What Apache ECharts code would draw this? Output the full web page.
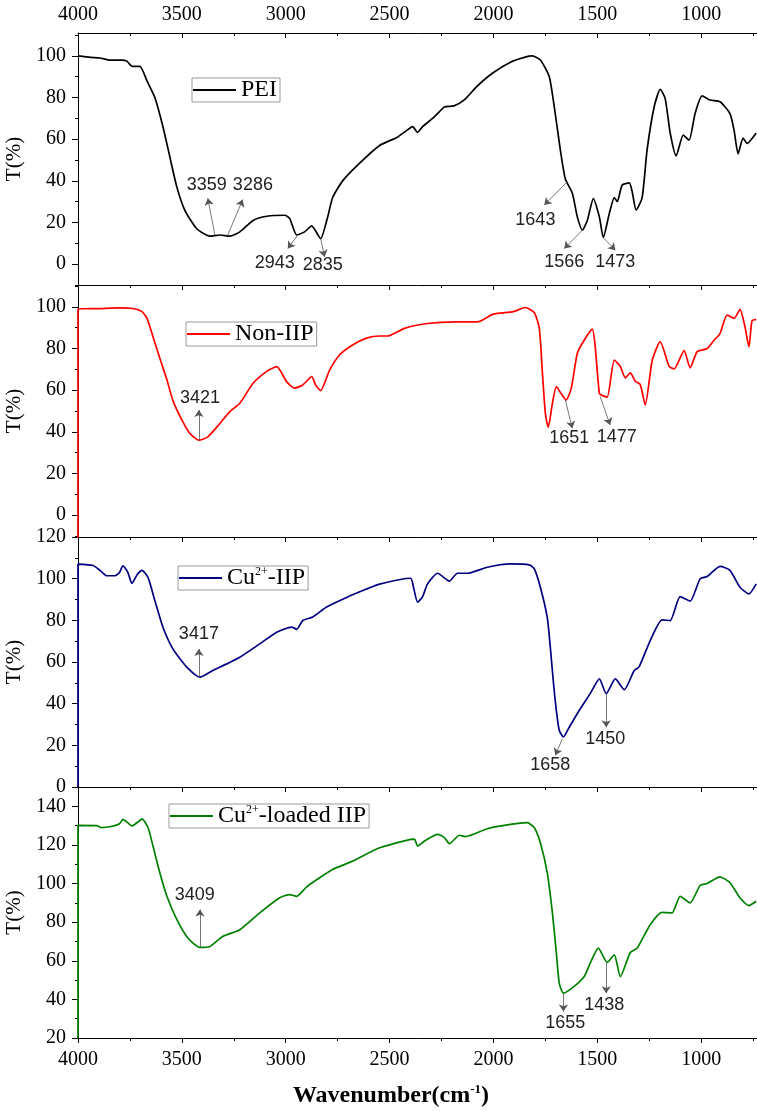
<!DOCTYPE html>
<html>
<head>
<meta charset="utf-8">
<title>FTIR spectra</title>
<script src="https://cdn.jsdelivr.net/npm/echarts@6/dist/echarts.min.js"></script>
<style>
  html, body { margin: 0; padding: 0; background: #fff; }
  #chart { width: 757px; height: 1111px; }
</style>
</head>
<body>
<div id="chart"></div>
<script>
// wavenumber ticks (cm-1)
const xMajorTicks = [1000, 1500, 2000, 2500, 3000, 3500, 4000];
const xMinorTicks = [750, 1250, 1750, 2250, 2750, 3250, 3750];

// spectra, [wavenumber, T%]
const peiData = [
  [4000, 100], [3940, 99.3], [3894, 99], [3846, 98], [3788, 98], [3765, 97.5], [3740, 95], [3702, 95],
  [3668, 88], [3630, 80], [3591, 66], [3558, 51.6], [3524, 37], [3486, 26], [3428, 17], [3365, 13.5],
  [3317, 14], [3269, 13.5], [3221, 15.5], [3157, 21], [3091, 23], [3005, 23.5], [2981, 22], [2947, 14],
  [2909, 15.5], [2875, 18.4], [2832, 12.3], [2798, 22.7], [2774, 32], [2726, 40], [2644, 48.5], [2548, 57],
  [2462, 61], [2420, 64], [2389, 66], [2365, 63.3], [2341, 66], [2293, 70], [2260, 73.2], [2236, 75.5],
  [2190, 76], [2139, 79], [2077, 85.6], [2005, 91.7], [1918, 97], [1851, 99.3], [1813, 100], [1774, 98],
  [1731, 90], [1702, 72], [1678, 55], [1654, 41], [1620, 34], [1596, 22.7], [1572, 16.3], [1548, 21],
  [1519, 31.5], [1490, 22.7], [1471, 12.8], [1442, 24.4], [1418, 32], [1404, 30], [1380, 38], [1346, 39],
  [1332, 34.8], [1313, 26], [1284, 32], [1260, 55], [1226, 75.6], [1197, 84], [1173, 79.5], [1149, 63],
  [1120, 52], [1086, 62], [1058, 59.6], [1029, 72.4], [995, 80.8], [957, 78.8], [909, 78], [861, 72.3],
  [841, 64], [822, 53], [798, 60.5], [779, 58], [735, 63]
];
const nonIipData = [
  [4000, -12], [4000, 99], [3900, 99.2], [3800, 99.5], [3734, 99.2], [3692, 97.7], [3668, 94.5], [3639, 85.7],
  [3606, 75.3], [3572, 65], [3543, 55], [3500, 45.7], [3462, 39.3], [3418, 36], [3375, 37.6], [3317, 44],
  [3269, 49.7], [3221, 53.7], [3157, 63.3], [3091, 69], [3043, 71.3], [2995, 64], [2957, 61], [2918, 62.5],
  [2875, 66.5], [2856, 62.5], [2832, 59.8], [2788, 69.7], [2740, 77], [2678, 81.7], [2611, 85], [2548, 86],
  [2510, 86], [2428, 89.7], [2317, 92], [2188, 92.8], [2077, 92.8], [2000, 96.5], [1904, 97.7], [1846, 99.7],
  [1803, 97.2], [1779, 89.7], [1765, 69.7], [1750, 48.9], [1736, 42.2], [1716, 53.7], [1697, 61.7], [1678, 59],
  [1650, 55.3], [1625, 61], [1596, 77.7], [1563, 84], [1524, 89.3], [1510, 81], [1490, 58.5], [1477, 57.5],
  [1452, 56.7], [1418, 74.5], [1389, 71.4], [1365, 65.9], [1341, 68.3], [1317, 64.3], [1293, 62.7], [1269, 52.9],
  [1235, 74.5], [1197, 83.3], [1154, 71.4], [1130, 70.2], [1082, 79], [1053, 70.7], [1019, 78.5], [971, 80],
  [938, 84], [909, 87.2], [875, 96], [841, 94.5], [813, 98.8], [789, 90.5], [770, 80.8], [755, 93.3], [735, 94]
];
const cuIipData = [
  [4000, 0], [4000, 107], [3928, 106.3], [3894, 104], [3861, 101.4], [3822, 101.4], [3800, 103], [3784, 106.2],
  [3760, 103], [3740, 97.7], [3715, 102], [3692, 104], [3663, 100.6], [3630, 89.5], [3591, 76.7], [3543, 66.3],
  [3476, 57.5], [3413, 52.7], [3351, 55.9], [3284, 59.1], [3221, 62.3], [3125, 68.7], [3043, 74.3], [2971, 76.7],
  [2947, 75.7], [2918, 79.9], [2870, 81.6], [2803, 86.4], [2707, 91], [2611, 95], [2548, 97.4], [2399, 100.2],
  [2385, 96], [2365, 88.7], [2341, 91.4], [2317, 97.5], [2269, 102.6], [2212, 98.8], [2173, 102.6], [2125, 102.6],
  [2029, 105.5], [1918, 107.1], [1827, 106.6], [1803, 104.7], [1774, 95.9], [1741, 81.5], [1726, 67], [1712, 51.1],
  [1697, 36.7], [1683, 27.2], [1663, 24], [1635, 28.7], [1587, 36.7], [1534, 44.8], [1490, 51.9], [1457, 44.8],
  [1413, 51.9], [1370, 46.7], [1322, 55.9], [1298, 57.8], [1245, 70.3], [1188, 80.2], [1149, 79.9], [1101, 91.4],
  [1053, 89.2], [1005, 99.9], [971, 101], [909, 105.9], [861, 104], [813, 95.9], [770, 92.7], [735, 97.5]
];
const cuLoadedData = [
  [4000, 20], [4000, 130.1], [3909, 130], [3890, 129], [3846, 129.4], [3800, 131], [3784, 133.2], [3760, 131.5],
  [3740, 129.8], [3710, 132], [3692, 133.5], [3663, 129], [3639, 119.4], [3606, 105.6], [3572, 93.4], [3524, 81.3],
  [3471, 71.8], [3413, 66.9], [3365, 67.4], [3303, 72.6], [3221, 76.1], [3125, 84.8], [3029, 92.6], [2981, 94.3],
  [2947, 93.4], [2899, 98.3], [2837, 103], [2774, 107.3], [2678, 111.6], [2548, 118.5], [2399, 122.9], [2380, 123],
  [2365, 119.4], [2332, 122], [2269, 125.5], [2236, 123.8], [2212, 120.6], [2164, 125], [2135, 124.3], [2029, 128.4],
  [1918, 130.6], [1837, 131.5], [1803, 128.9], [1774, 121.1], [1741, 105.6], [1716, 84.8], [1697, 64], [1683, 48.4],
  [1663, 43.2], [1611, 46.7], [1563, 51.8], [1534, 58.8], [1495, 66.6], [1452, 59.1], [1418, 63.1], [1389, 51.8],
  [1341, 64.3], [1308, 66.6], [1245, 78.7], [1188, 85.1], [1140, 84.8], [1101, 93.4], [1053, 90], [1005, 99],
  [971, 100], [909, 103.5], [861, 100.4], [813, 92.6], [770, 88.6], [735, 90.8]
];

// peak notes: [text, fromW, fromT, arrowW, arrowT, labelW, labelT]
const peiNotes = [
  ['3359', 3341, 14, 3375, 31.6, 3380, 38],
  ['3286', 3279, 14, 3207, 31, 3158, 38],
  ['2943', 2942, 14, 2990, 7.5, 3053, 0.5],
  ['2835', 2832, 12.5, 2813, 3.5, 2822, -0.5],
  ['1643', 1644, 39.6, 1755, 28.4, 1798, 21],
  ['1566', 1572, 16.3, 1659, 7.5, 1659, 1],
  ['1473', 1466, 12.3, 1413, 6.7, 1413, 1]
];
const nonIipNotes = [
  ['3421', 3418, 36, 3418, 50.5, 3413, 56],
  ['1651', 1654, 55.3, 1620, 41.7, 1635, 36.9],
  ['1477', 1486, 56.9, 1438, 43.3, 1406, 37.7]
];
const cuIipNotes = [
  ['3417', 3418, 52.7, 3418, 66.3, 3418, 73.5],
  ['1658', 1668, 23.2, 1702, 15.2, 1726, 10.4],
  ['1450', 1457, 44.8, 1457, 28.7, 1462, 23.2]
];
const cuLoadedNotes = [
  ['3409', 3413, 66.6, 3413, 86.5, 3438, 94.3],
  ['1655', 1663, 43.2, 1663, 33.7, 1654, 27.9],
  ['1438', 1457, 58.8, 1457, 43.2, 1466, 37]
];

const SERIF = '"Liberation Serif", "Times New Roman", serif';
const SANS = '"Liberation Sans", Arial, sans-serif';
const X_MIN = 731, X_MAX = 4000;

const panels = [
  { name: 'PEI', data: peiData, notes: peiNotes, color: '#000000',
    top: 33, height: 252, yMin: -10, yMax: 111,
    yMajor: [0, 20, 40, 60, 80, 100], yMinor: [-10, 10, 30, 50, 70, 90, 110],
    legendPos: { left: 192, top: 78 }, legendText: '{a|PEI}' },
  { name: 'Non-IIP', data: nonIipData, notes: nonIipNotes, color: '#ff0000',
    top: 285, height: 252, yMin: -10.5, yMax: 110.5,
    yMajor: [0, 20, 40, 60, 80, 100], yMinor: [-10, 10, 30, 50, 70, 90, 110],
    legendPos: { left: 186, top: 322 }, legendText: '{a|Non-IIP}' },
  { name: 'Cu-IIP', data: cuIipData, notes: cuIipNotes, color: '#000080',
    top: 537, height: 250, yMin: 0, yMax: 120,
    yMajor: [0, 20, 40, 60, 80, 100, 120], yMinor: [10, 30, 50, 70, 90, 110],
    legendPos: { left: 178, top: 566 }, legendText: '{a|Cu}{s|2+}{a|-IIP}' },
  { name: 'Cu-loaded IIP', data: cuLoadedData, notes: cuLoadedNotes, color: '#008000',
    top: 787, height: 251, yMin: 20, yMax: 150,
    yMajor: [20, 40, 60, 80, 100, 120, 140], yMinor: [30, 50, 70, 90, 110, 130, 150],
    legendPos: { left: 169, top: 804 }, legendText: '{a|Cu}{s|2+}{a|-loaded IIP}' }
];

const axisLineStyle = { color: '#000', width: 1 };
const labelStyle = { color: '#000', fontFamily: SERIF, fontSize: 20, formatter: v => String(v) };

const grids = [], xAxes = [], yAxes = [], series = [], legends = [];

function addXAxis(gridIndex, position, showLabels, inside) {
  const base = {
    type: 'value', gridIndex, position, min: X_MIN, max: X_MAX, inverse: true,
    splitLine: { show: false }, silent: true
  };
  xAxes.push(Object.assign({}, base, {
    axisLine: { show: true, onZero: false, lineStyle: axisLineStyle },
    axisTick: { show: true, inside, length: 5, customValues: xMajorTicks, lineStyle: axisLineStyle },
    axisLabel: Object.assign({ show: showLabels, margin: inside ? 8 : 12, customValues: xMajorTicks }, labelStyle)
  }));
  const idx = xAxes.length - 1;
  xAxes.push(Object.assign({}, base, {
    axisLine: { show: false, onZero: false },
    axisTick: { show: true, inside, length: 3, customValues: xMinorTicks, lineStyle: axisLineStyle },
    axisLabel: { show: false }
  }));
  return idx;
}

panels.forEach((p, i) => {
  grids.push({ left: 78, right: 0, top: p.top, height: p.height, containLabel: false, outerBoundsMode: 'none' });

  if (i === 0) addXAxis(i, 'top', true, true);
  const xIdx = addXAxis(i, 'bottom', i === panels.length - 1, false);

  const yBase = { type: 'value', gridIndex: i, position: 'left', min: p.yMin, max: p.yMax, splitLine: { show: false }, silent: true };
  yAxes.push(Object.assign({}, yBase, {
    name: 'T(%)', nameLocation: 'middle', nameGap: 45,
    nameTextStyle: { color: '#000', fontFamily: SERIF, fontSize: 21 },
    axisLine: { show: true, onZero: false, lineStyle: axisLineStyle },
    axisTick: { show: true, length: 6, customValues: p.yMajor, lineStyle: axisLineStyle },
    axisLabel: Object.assign({ margin: 12, customValues: p.yMajor }, labelStyle)
  }));
  const yIdx = yAxes.length - 1;
  yAxes.push(Object.assign({}, yBase, {
    axisLine: { show: false, onZero: false },
    axisTick: { show: true, length: 3, customValues: p.yMinor, lineStyle: axisLineStyle },
    axisLabel: { show: false }
  }));

  series.push({
    type: 'line', name: p.name, xAxisIndex: xIdx, yAxisIndex: yIdx,
    data: p.data, symbol: 'none', showSymbol: false, smooth: 0.2, clip: true,
    lineStyle: { color: p.color, width: 1.7 }, itemStyle: { color: p.color },
    markLine: {
      silent: true, animation: false, symbol: ['none', 'arrow'], symbolSize: 7,
      label: { show: false },
      lineStyle: { color: '#555', width: 0.8, type: 'solid' },
      emphasis: { disabled: true },
      data: p.notes.map(n => [{ coord: [n[1], n[2]] }, { coord: [n[3], n[4]] }])
    },
    markPoint: {
      silent: true, animation: false, symbol: 'circle', symbolSize: 0,
      itemStyle: { color: 'transparent' },
      label: { show: true, position: 'inside', color: '#222', fontFamily: SANS, fontSize: 18, formatter: d => d.name },
      data: p.notes.map(n => ({ name: n[0], coord: [n[5], n[6]] }))
    }
  });

  legends.push({
    data: [p.name], left: p.legendPos.left, top: p.legendPos.top,
    selectedMode: false, icon: 'rect', itemWidth: 43, itemHeight: 2, itemGap: 0,
    padding: [0, 3, 0, 1], borderColor: '#999', borderWidth: 1,
    formatter: () => p.legendText,
    textStyle: {
      color: '#000',
      rich: {
        a: { fontFamily: SERIF, fontSize: 24, color: '#000', lineHeight: 24 },
        s: { fontFamily: SERIF, fontSize: 12, color: '#000', verticalAlign: 'top', lineHeight: 12 }
      }
    }
  });
});

const chart = echarts.init(document.getElementById('chart'), null, { renderer: 'canvas' });
chart.setOption({
  animation: false,
  backgroundColor: '#fff',
  title: {
    text: '{a|Wavenumber(cm}{s|-1}{a|)}',
    left: 386, top: 1078, textAlign: 'center',
    textStyle: {
      rich: {
        a: { fontFamily: SERIF, fontSize: 24, fontWeight: 'bold', color: '#000', lineHeight: 26 },
        s: { fontFamily: SERIF, fontSize: 13, fontWeight: 'bold', color: '#000', verticalAlign: 'top', lineHeight: 12 }
      }
    }
  },
  legend: legends,
  grid: grids,
  xAxis: xAxes,
  yAxis: yAxes,
  series: series
});
</script>
</body>
</html>
